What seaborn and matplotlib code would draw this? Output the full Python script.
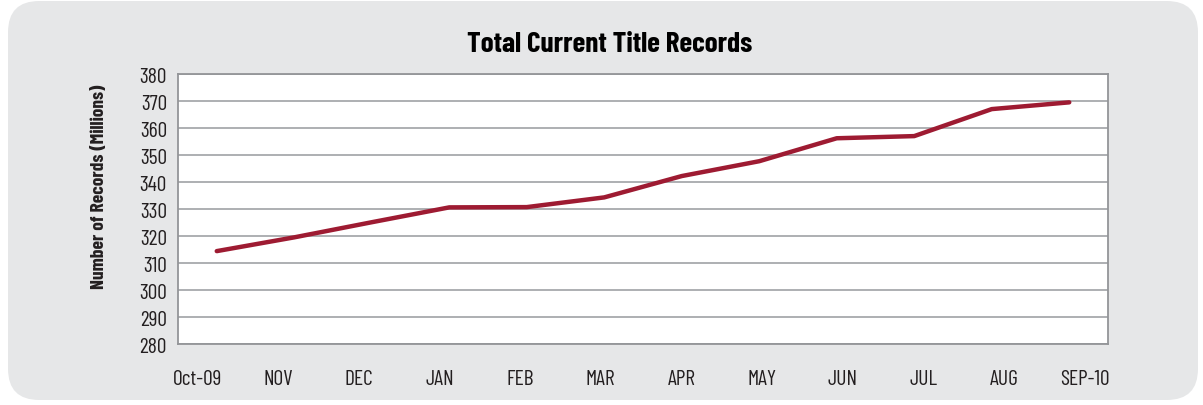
import matplotlib
matplotlib.use("Agg")
import matplotlib.pyplot as plt
from matplotlib.patches import FancyBboxPatch
import numpy as np
import pandas as pd
import seaborn as sns

months = ["Oct-09", "NOV", "DEC", "JAN", "FEB", "MAR", "APR", "MAY", "JUN", "JUL", "AUG", "SEP-10"]
records = [314.4, 319.5, 325.1, 330.6, 330.7, 334.3, 342.2, 347.7, 356.2, 357.0, 367.0, 369.5]
yticks = list(range(280, 381, 10))

df = pd.DataFrame({"pos": range(len(months)), "month": months, "records": records})

sns.set_style("white")
plt.rcParams["font.family"] = ["Barlow Condensed", "DejaVu Sans"]

fig = plt.figure(figsize=(12.03, 4.06), dpi=100)
fig.patch.set_facecolor("white")
panel = FancyBboxPatch((8 / 1203, 5 / 406), 1190 / 1203, 399 / 406,
                       boxstyle="round,pad=0,rounding_size=0.026",
                       mutation_aspect=1203 / 406,
                       transform=fig.transFigure, facecolor="#e6e7e8",
                       edgecolor="none", zorder=-10)
fig.patches.append(panel)

ax = fig.add_axes([178 / 1203, 1 - 345 / 406, 930 / 1203, 270 / 406])
ax.set_facecolor("white")
sns.lineplot(data=df, x="pos", y="records", ax=ax, color="#9e1b32", linewidth=3.2,
             solid_capstyle="round")

ax.set_xlim(-0.5, len(months) - 0.5)
ax.set_ylim(280, 380)
ax.set_yticks(yticks)
ax.set_xticks(np.linspace(-0.25, 11.2, len(months)))
ax.set_xticklabels(months)
ax.yaxis.grid(True, color="#a7a9ac", linewidth=1.3)
ax.set_axisbelow(True)
for s in ax.spines.values():
    s.set_color("#939598")
    s.set_linewidth(1.3)
ax.tick_params(axis="both", length=0, labelsize=15.5, labelcolor="#231f20")
ax.tick_params(axis="x", pad=18)
ax.tick_params(axis="y", pad=8)
ax.set_xlabel("")
ax.set_ylabel("")

fig.text(610 / 1203, 1 - 44 / 406, "Total Current Title Records", ha="center", va="center",
         fontsize=21, fontweight="bold", color="black")
fig.text(100 / 1203, 1 - 187 / 406, "Number of Records (Millions)", ha="center", va="center",
         rotation=90, fontsize=14, fontweight="bold", color="#231f20")

fig.savefig("out.png", dpi=100)
